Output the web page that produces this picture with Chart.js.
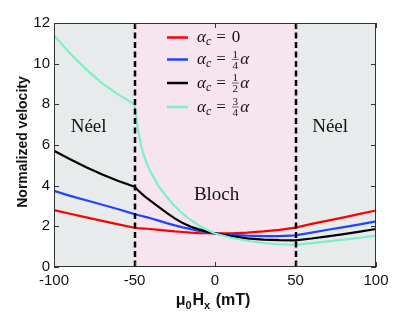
<!DOCTYPE html>
<html><head><meta charset="utf-8">
<script src="https://cdn.jsdelivr.net/npm/chart.js@4"></script>
<style>html,body{margin:0;padding:0;background:#fff}canvas{display:block}</style>
</head><body>
<canvas id="c" width="415" height="312"></canvas>
<script>
// field values (mT)
const fields = [-100,-90,-80,-70,-60,-50,-48,-46,-44,-42,-40,-35,-30,-25,-20,-15,-10,-5,0,10,20,30,40,50,60,70,80,90,100];
// normalized velocity for each damping ratio
const velAlpha0    = [2.80,2.62,2.44,2.27,2.10,1.93,1.91,1.90,1.89,1.88,1.87,1.83,1.79,1.75,1.72,1.69,1.67,1.66,1.65,1.65,1.69,1.75,1.83,1.94,2.12,2.28,2.44,2.61,2.78];
const velQuarter   = [3.75,3.50,3.28,3.06,2.84,2.60,2.56,2.52,2.48,2.44,2.40,2.28,2.16,2.05,1.95,1.86,1.78,1.71,1.65,1.58,1.54,1.52,1.52,1.56,1.69,1.83,1.96,2.10,2.24];
const velHalf      = [5.72,5.30,4.91,4.55,4.23,3.95,3.79,3.64,3.50,3.37,3.25,2.96,2.66,2.39,2.16,1.98,1.85,1.74,1.65,1.52,1.41,1.35,1.32,1.31,1.40,1.51,1.62,1.74,1.87];
const velThreeQ    = [11.39,10.50,9.72,9.03,8.48,8.00,6.85,6.00,5.45,5.03,4.68,3.98,3.45,3.00,2.62,2.30,2.04,1.83,1.65,1.44,1.29,1.18,1.12,1.09,1.17,1.26,1.35,1.44,1.54];
const series = [velAlpha0, velQuarter, velHalf, velThreeQ];
// legend pieces: alpha_c = num/den alpha
const legendNum = [null,'1','1','3'];
const legendDen = [null,'4','2','4'];
const xTicks = [-100,-50,0,50,100];
const yTicks = [0,2,4,6,8,10,12];
const wallEdges = [-50,50];
const regionLabels = ['Néel','Bloch','Néel'];

// styling / placement
const colors = ['#ff0000','#2142ff','#000000','#7af0c9'];
const labelPos = [[-78.5,6.65],[1,3.3],[71.5,6.65]];
const greyBg = '#e8ebeb', pinkBg = '#f6e5ef';

const tickFont = {family:'"Liberation Sans", Arial, sans-serif', size:15};

const deco = {
  id:'deco',
  beforeDatasetsDraw(chart){
    const {ctx, chartArea:a, scales:{x}} = chart;
    const x1 = x.getPixelForValue(wallEdges[0]), x2 = x.getPixelForValue(wallEdges[1]);
    ctx.save();
    ctx.fillStyle = greyBg; ctx.fillRect(a.left, a.top, x1-a.left, a.bottom-a.top);
    ctx.fillStyle = pinkBg; ctx.fillRect(x1, a.top, x2-x1, a.bottom-a.top);
    ctx.fillStyle = greyBg; ctx.fillRect(x2, a.top, a.right-x2, a.bottom-a.top);
    ctx.restore();
  },
  afterDatasetsDraw(chart){
    const {ctx, chartArea:a, scales:{x,y}} = chart;
    ctx.save();
    // dashed walls
    ctx.strokeStyle = '#000'; ctx.lineWidth = 2.5; ctx.setLineDash([6,3.5]);
    wallEdges.forEach(v=>{
      const px = Math.round(x.getPixelForValue(v));
      ctx.beginPath(); ctx.moveTo(px, a.top); ctx.lineTo(px, a.bottom); ctx.stroke();
    });
    ctx.setLineDash([]);
    // region labels
    ctx.fillStyle = '#111'; ctx.font = '19px "Liberation Serif", serif';
    ctx.textAlign = 'center'; ctx.textBaseline = 'alphabetic';
    regionLabels.forEach((t,i)=>{
      ctx.fillText(t, x.getPixelForValue(labelPos[i][0]), y.getPixelForValue(labelPos[i][1]));
    });
    // box and inward ticks
    ctx.strokeStyle = '#333'; ctx.lineWidth = 1;
    ctx.strokeRect(a.left+0.5, a.top+0.5, a.right-a.left-1, a.bottom-a.top-1);
    ctx.beginPath();
    yTicks.forEach(v=>{
      const py = Math.round(y.getPixelForValue(v))+0.5;
      ctx.moveTo(a.left, py); ctx.lineTo(a.left+5, py);
      ctx.moveTo(a.right, py); ctx.lineTo(a.right-5, py);
    });
    xTicks.forEach(v=>{
      const px = Math.round(x.getPixelForValue(v))+0.5;
      ctx.moveTo(px, a.bottom); ctx.lineTo(px, a.bottom-5);
      ctx.moveTo(px, a.top); ctx.lineTo(px, a.top+5);
    });
    ctx.stroke();
    // legend
    const rows = [37.5, 59.5, 83, 107];
    series.forEach((s,i)=>{
      const ry = rows[i];
      ctx.strokeStyle = colors[i]; ctx.lineWidth = 2.5;
      ctx.beginPath(); ctx.moveTo(167, ry); ctx.lineTo(188, ry); ctx.stroke();
      const base = ry + 4.5;
      let tx = 197;
      ctx.fillStyle = '#111'; ctx.textAlign = 'left';
      ctx.font = 'italic 17px "Liberation Serif", serif';
      ctx.fillText('α', tx, base); tx += ctx.measureText('α').width;
      ctx.font = 'italic 12px "Liberation Serif", serif';
      ctx.fillText('c', tx, base+3); tx += ctx.measureText('c').width + 5;
      ctx.font = '17px "Liberation Serif", serif';
      ctx.fillText('=', tx, base); tx += ctx.measureText('=').width + 6;
      if (legendNum[i] === null) {
        ctx.fillText('0', tx, base);
      } else {
        ctx.font = '11px "Liberation Serif", serif';
        ctx.textAlign = 'center';
        const cx = tx + 3.5;
        ctx.fillText(legendNum[i], cx, base-6.5);
        ctx.fillText(legendDen[i], cx, base+4.5);
        ctx.lineWidth = 0.7; ctx.strokeStyle = '#333';
        ctx.beginPath(); ctx.moveTo(tx, base-4.5); ctx.lineTo(tx+7, base-4.5); ctx.stroke();
        ctx.textAlign = 'left';
        ctx.font = 'italic 17px "Liberation Serif", serif';
        ctx.fillText('α', tx+8.5, base);
      }
    });
    // axis titles
    ctx.fillStyle = '#111';
    ctx.save();
    ctx.translate(23, (a.top+a.bottom)/2 - 3);
    ctx.rotate(-Math.PI/2);
    ctx.textAlign = 'center'; ctx.textBaseline = 'middle';
    ctx.font = 'bold 14px "Liberation Sans", Arial, sans-serif';
    ctx.fillText('Normalized velocity', 0, 0);
    ctx.restore();
    const parts = [['μ',16,0],['0',11,4],['H',16,0],['x',11,4],[' (mT)',16,0]];
    ctx.textAlign = 'left';
    let total = 0;
    parts.forEach(p=>{ ctx.font = 'bold '+p[1]+'px "Liberation Sans", Arial, sans-serif'; total += ctx.measureText(p[0]).width + (p[1]<16?1:0); });
    let lx = (a.left+a.right)/2 - total/2 - 2;
    parts.forEach(p=>{
      ctx.font = 'bold '+p[1]+'px "Liberation Sans", Arial, sans-serif';
      ctx.fillText(p[0], lx, 305 + p[2]);
      lx += ctx.measureText(p[0]).width + (p[1]<16?1:0);
    });
    ctx.restore();
  }
};

new Chart(document.getElementById('c'), {
  type:'line',
  data:{ datasets: series.map((s,i)=>({
    data: fields.map((f,j)=>({x:f, y:s[j]})),
    borderColor: colors[i], borderWidth: 2.2, pointRadius: 0,
    tension: 0, fill:false, order: 3-i
  }))},
  options:{
    responsive:false, animation:false, devicePixelRatio:1,
    layout:{padding:{top:23, right:39, left:0, bottom:0}},
    plugins:{legend:{display:false}, tooltip:{enabled:false}},
    scales:{
      x:{type:'linear', min:-100, max:100,
         afterBuildTicks: s=>{ s.ticks = xTicks.map(v=>({value:v})); },
         afterFit: s=>{ s.height = 45; },
         ticks:{font:tickFont, color:'#111', padding:5, maxRotation:0, autoSkip:false},
         grid:{display:false, drawTicks:false}, border:{display:false}},
      y:{type:'linear', min:0, max:12,
         afterBuildTicks: s=>{ s.ticks = yTicks.map(v=>({value:v})); },
         afterFit: s=>{ s.width = 54; },
         ticks:{font:tickFont, color:'#111', padding:4, autoSkip:false},
         grid:{display:false, drawTicks:false}, border:{display:false}}
    }
  },
  plugins:[deco]
});
</script>
</body></html>
